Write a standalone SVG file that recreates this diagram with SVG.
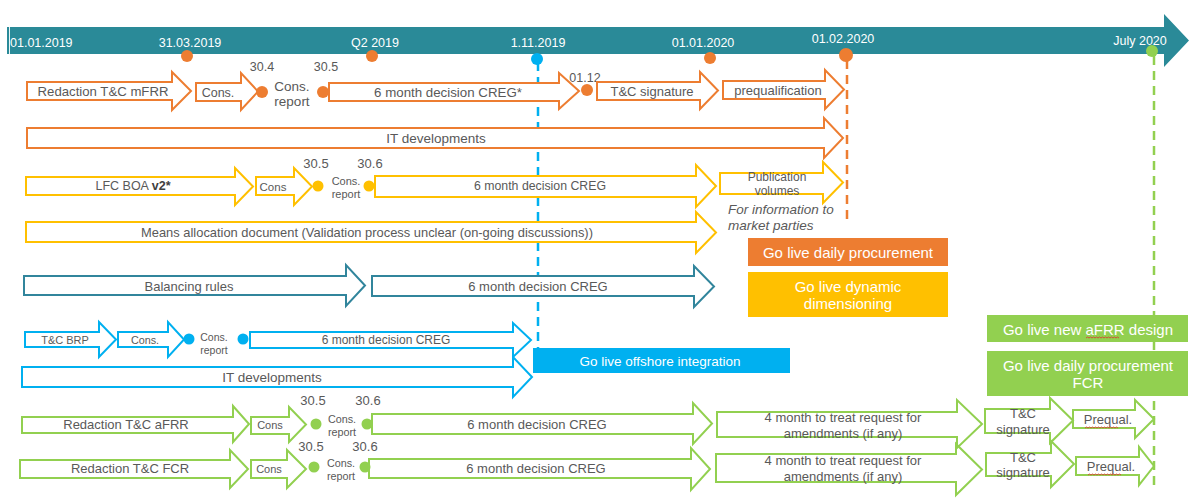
<svg xmlns="http://www.w3.org/2000/svg" width="1189" height="503" viewBox="0 0 1189 503">
<style>
text{font-family:"Liberation Sans",Arial,sans-serif;fill:#595959;dominant-baseline:central}
.c{text-anchor:middle}
.w{fill:#fff}
.ar{fill:#fff;stroke-width:2;stroke-linejoin:miter}
.o{stroke:#ed7d31}.y{stroke:#ffc000}.t{stroke:#31859c}.b{stroke:#00b0f0}.g{stroke:#92d050;fill:none}
.dl{fill:none;stroke-width:2.5;stroke-dasharray:9 6}
.sq{fill:none;stroke:#e03030;stroke-width:0.8}
</style>
<g id="timeline">
<path d="M7 27 H1164 V14 L1189 40.5 L1164 67 V54 H7 Z" fill="#2a8a98"/>
<line x1="9.5" y1="27" x2="9.5" y2="54" stroke="#e8f4f5" stroke-width="1"/>
<text class="w" x="10" y="43" font-size="12.5">01.01.2019</text>
<text class="w c" x="190" y="43" font-size="12.5">31.03.2019</text>
<text class="w c" x="375" y="43" font-size="12.5">Q2 2019</text>
<text class="w c" x="538" y="43" font-size="12.5">1.11.2019</text>
<text class="w c" x="703" y="43" font-size="12.5">01.01.2020</text>
<text class="w c" x="843" y="39" font-size="12.5">01.02.2020</text>
<text class="w c" x="1140" y="41" font-size="12.5">July 2020</text>
</g>
<g id="connectors">
<line class="dl" x1="538" y1="62" x2="538" y2="348" stroke="#00b0f0"/>
<line class="dl" x1="847" y1="60" x2="847" y2="222" stroke="#ed7d31"/>
<line class="dl" x1="1154" y1="56" x2="1154" y2="488" stroke="#92d050"/>
</g>
<g id="milestones">
<circle cx="187" cy="56" r="6" fill="#ed7d31"/>
<circle cx="372" cy="56" r="6" fill="#ed7d31"/>
<circle cx="537" cy="59" r="6" fill="#00b0f0"/>
<circle cx="710" cy="58" r="6" fill="#ed7d31"/>
<circle cx="846" cy="55" r="7" fill="#ed7d31"/>
<circle cx="1152" cy="51" r="6" fill="#92d050"/>
</g>
<g id="row-mfrr">
<g id="mfrr-redaction"><path class="ar o" d="M27 82 H172 V72 L191 91 L172 110 V100 H27 Z"/><text class="c" x="103" y="91" font-size="13.2">Redaction T&amp;C mFRR</text></g>
<g id="mfrr-cons"><path class="ar o" d="M196 83 H241 V73 L258 91.5 L241 110 V101 H196 Z"/><text class="c" x="218" y="93" font-size="12.5">Cons.</text></g>
<g id="mfrr-report"><circle cx="262" cy="92" r="6" fill="#ed7d31"/><text class="c" x="262" y="67" font-size="12.5">30.4</text><text class="c" x="292" y="86" font-size="13.5">Cons.</text><text class="c" x="292" y="101" font-size="13.5">report</text><circle cx="323" cy="92" r="6" fill="#ed7d31"/><text class="c" x="326" y="67" font-size="12.5">30.5</text></g>
<g id="mfrr-creg"><path class="ar o" d="M329 83 H559 V73 L579 91 L559 109 V101 H329 Z"/><text class="c" x="448" y="92" font-size="13.3">6 month decision CREG*</text></g>
<g id="mfrr-0112"><circle cx="587" cy="90" r="6" fill="#ed7d31"/><text class="c" x="585" y="78" font-size="12.5">01.12</text></g>
<g id="mfrr-signature"><path class="ar o" d="M597 82 H700 V72 L718 90.5 L700 109 V100 H597 Z"/><text class="c" x="652" y="91" font-size="13">T&amp;C signature</text></g>
<g id="mfrr-prequal"><path class="ar o" d="M723 81 H825 V70 L844 89.5 L825 109 V99 H723 Z"/><text class="c" x="778" y="90" font-size="13">prequalification</text></g>
</g>
<g id="mfrr-it"><path class="ar o" d="M27 128 H824 V118 L843 138 L824 158 V148 H27 Z"/><text class="c" x="436" y="138" font-size="13.5">IT developments</text></g>
<g id="row-lfc">
<g id="lfc-boa"><path class="ar y" d="M26 177 H235 V168 L253 186.5 L235 205 V195 H26 Z"/><text class="c" x="133" y="186" font-size="12.5">LFC BOA <tspan font-weight="bold" fill="#404040">v2*</tspan></text></g>
<g id="lfc-cons"><path class="ar y" d="M256 177 H294 V168 L312 186.5 L294 205 V195 H256 Z"/><text class="c" x="273" y="187" font-size="11.5">Cons</text></g>
<g id="lfc-report"><circle cx="318" cy="186" r="5.5" fill="#ffc000"/><text class="c" x="316" y="163" font-size="13">30.5</text><text class="c" x="346" y="181" font-size="11">Cons.</text><text class="c" x="346" y="194" font-size="11">report</text><circle cx="369" cy="186" r="5.5" fill="#ffc000"/><text class="c" x="370" y="163" font-size="13">30.6</text></g>
<g id="lfc-creg"><path class="ar y" d="M375 176 H696 V165 L716 186 L696 207 V197 H375 Z"/><text class="c" x="540" y="186" font-size="12.3">6 month decision CREG</text></g>
<g id="lfc-publication"><path class="ar y" d="M720 173 H823 V162 L843 182.5 L823 203 V194 H720 Z"/><text class="c" x="777" y="177" font-size="12">Publication</text><text class="c" x="777" y="191" font-size="12">volumes</text><text x="728" y="209" font-size="13.5" font-style="italic">For information to</text><text x="728" y="225" font-size="13.5" font-style="italic">market parties</text></g>
</g>
<g id="means-allocation"><path class="ar y" d="M26 222 H696 V212 L716 232.5 L696 253 V242 H26 Z"/><text class="c" x="367" y="232" font-size="12.9">Means allocation document (Validation process unclear (on-going discussions))</text></g>
<g id="golive-daily"><rect x="748" y="238" width="200" height="28" fill="#ed7d31"/><text class="w c" x="848" y="252" font-size="15">Go live daily procurement</text></g>
<g id="golive-dynamic"><rect x="748" y="272" width="200" height="45" fill="#ffc000"/><text class="w c" x="848" y="286" font-size="15">Go live dynamic</text><text class="w c" x="848" y="303" font-size="15">dimensioning</text></g>
<g id="row-balancing">
<g id="balancing-rules"><path class="ar t" d="M24 276 H346 V265 L365 285.5 L346 306 V295 H24 Z"/><text class="c" x="189" y="286" font-size="13">Balancing rules</text></g>
<g id="balancing-creg"><path class="ar t" d="M372 276 H694 V266 L714 286.5 L694 307 V296 H372 Z"/><text class="c" x="538" y="286" font-size="13">6 month decision CREG</text></g>
</g>
<g id="row-brp">
<g id="brp-tc"><path class="ar b" d="M25 332 H99 V322 L116 339.5 L99 357 V347 H25 Z"/><text class="c" x="65" y="340" font-size="11">T&amp;C BRP</text></g>
<g id="brp-cons"><path class="ar b" d="M118 332 H168 V322 L184 339.5 L168 357 V347 H118 Z"/><text class="c" x="145" y="340" font-size="10.8">Cons.</text></g>
<g id="brp-report"><circle cx="189" cy="339" r="5.5" fill="#00b0f0"/><text class="c" x="214" y="337" font-size="10.5">Cons.</text><text class="c" x="214" y="350" font-size="10.5">report</text><circle cx="243" cy="339" r="5.5" fill="#00b0f0"/></g>
<g id="brp-creg"><path class="ar b" d="M250 332 H513 V323 L531 340 L513 357 V348 H250 Z"/><text class="c" x="386" y="340" font-size="12">6 month decision CREG</text></g>
<g id="brp-it"><path class="ar b" d="M22 367 H513 V357 L532 377 L513 397 V387 H22 Z"/><text class="c" x="272" y="377" font-size="13.5">IT developments</text></g>
</g>
<g id="golive-offshore"><rect x="533" y="348" width="257" height="25" fill="#00b0f0"/><text class="w c" x="660" y="361" font-size="13.5">Go live offshore integration</text></g>
<g id="golive-afrr"><rect x="987" y="315" width="201" height="27" fill="#92d050"/><text class="w c" x="1088" y="329" font-size="15">Go live new aFRR design</text><path class="sq" d="M1086 338 l1.5 -1 l1.5 1 l1.5 -1 l1.5 1 l1.5 -1 l1.5 1 l1.5 -1 l1.5 1 l1.5 -1 l1.5 1 l1.5 -1 l1.5 1 l1.5 -1 l1.5 1 l1.5 -1 l1.5 1 l1.5 -1 l1.5 1 l1.5 -1 l1.5 1 l1.5 -1 l1.5 1"/></g>
<g id="golive-fcr"><rect x="987" y="351" width="201" height="45" fill="#92d050"/><text class="w c" x="1088" y="365" font-size="15">Go live daily procurement</text><text class="w c" x="1088" y="382" font-size="15">FCR</text></g>
<g id="row-afrr">
<g id="afrr-redaction"><path class="ar g" d="M22 417 H233 V406 L249 424 L233 442 V433 H22 Z"/><text class="c" x="126" y="424" font-size="13">Redaction T&amp;C aFRR</text></g>
<g id="afrr-cons"><path class="ar g" d="M251 417 H289 V407 L306 424.5 L289 442 V434 H251 Z"/><text class="c" x="270" y="425" font-size="11">Cons</text></g>
<g id="afrr-report"><circle cx="316" cy="424" r="5.5" fill="#92d050"/><text class="c" x="313" y="400" font-size="13">30.5</text><text class="c" x="342" y="419" font-size="10.8">Cons.</text><text class="c" x="342" y="432" font-size="10.8">report</text><circle cx="367" cy="424" r="5.5" fill="#92d050"/><text class="c" x="368" y="400" font-size="13">30.6</text></g>
<g id="afrr-creg"><path class="ar g" d="M372 414 H693 V403 L712 423.5 L693 444 V434 H372 Z"/><text class="c" x="537" y="424" font-size="13">6 month decision CREG</text></g>
<g id="afrr-amend"><path class="ar g" d="M717 412 H957 V400 L982 424 L957 448 V437 H717 Z"/><text class="c" x="843" y="417" font-size="13">4 month to treat request for</text><text class="c" x="843" y="433" font-size="13">amendments (if any)</text></g>
<g id="afrr-signature"><path class="ar g" d="M985 409 H1050 V398 L1073 420.5 L1050 443 V433 H985 Z"/><text class="c" x="1023" y="413" font-size="13">T&amp;C</text><text class="c" x="1023" y="429" font-size="13">signature</text></g>
<g id="afrr-prequal"><path class="ar g" d="M1073 410 H1135 V400 L1154 419 L1135 438 V428 H1073 Z"/><text class="c" x="1108" y="419" font-size="13">Prequal.</text><path class="sq" d="M1085 428 l1.5 -1 l1.5 1 l1.5 -1 l1.5 1 l1.5 -1 l1.5 1 l1.5 -1 l1.5 1 l1.5 -1 l1.5 1 l1.5 -1 l1.5 1 l1.5 -1 l1.5 1 l1.5 -1 l1.5 1 l1.5 -1 l1.5 1 l1.5 -1 l1.5 1 l1.5 -1 l1.5 1"/></g>
</g>
<g id="row-fcr">
<g id="fcr-redaction"><path class="ar g" d="M20 460 H230 V450 L248 469 L230 488 V478 H20 Z"/><text class="c" x="130" y="468" font-size="13">Redaction T&amp;C FCR</text></g>
<g id="fcr-cons"><path class="ar g" d="M251 460 H287 V450 L306 469 L287 488 V478 H251 Z"/><text class="c" x="269" y="469" font-size="11">Cons</text></g>
<g id="fcr-report"><circle cx="314" cy="467" r="5.5" fill="#92d050"/><text class="c" x="311" y="446" font-size="13">30.5</text><text class="c" x="341" y="463" font-size="10.8">Cons.</text><text class="c" x="341" y="476" font-size="10.8">report</text><circle cx="365" cy="467" r="5.5" fill="#92d050"/><text class="c" x="365" y="446" font-size="13">30.6</text></g>
<g id="fcr-creg"><path class="ar g" d="M369 459 H691 V448 L710 469 L691 490 V478 H369 Z"/><text class="c" x="536" y="468" font-size="13">6 month decision CREG</text></g>
<g id="fcr-amend"><path class="ar g" d="M716 454 H956 V444 L982 469.5 L956 495 V482 H716 Z"/><text class="c" x="843" y="460" font-size="13">4 month to treat request for</text><text class="c" x="843" y="476" font-size="13">amendments (if any)</text></g>
<g id="fcr-signature"><path class="ar g" d="M986 453 H1051 V441 L1074 464 L1051 487 V476 H986 Z"/><text class="c" x="1023" y="457" font-size="13">T&amp;C</text><text class="c" x="1023" y="472" font-size="13">signature</text></g>
<g id="fcr-prequal"><path class="ar g" d="M1076 457 H1139 V447 L1154 466 L1139 485 V475 H1076 Z"/><text class="c" x="1111" y="466" font-size="13">Prequal.</text><path class="sq" d="M1088 475 l1.5 -1 l1.5 1 l1.5 -1 l1.5 1 l1.5 -1 l1.5 1 l1.5 -1 l1.5 1 l1.5 -1 l1.5 1 l1.5 -1 l1.5 1 l1.5 -1 l1.5 1 l1.5 -1 l1.5 1 l1.5 -1 l1.5 1 l1.5 -1 l1.5 1 l1.5 -1 l1.5 1"/></g>
</g>
</svg>
